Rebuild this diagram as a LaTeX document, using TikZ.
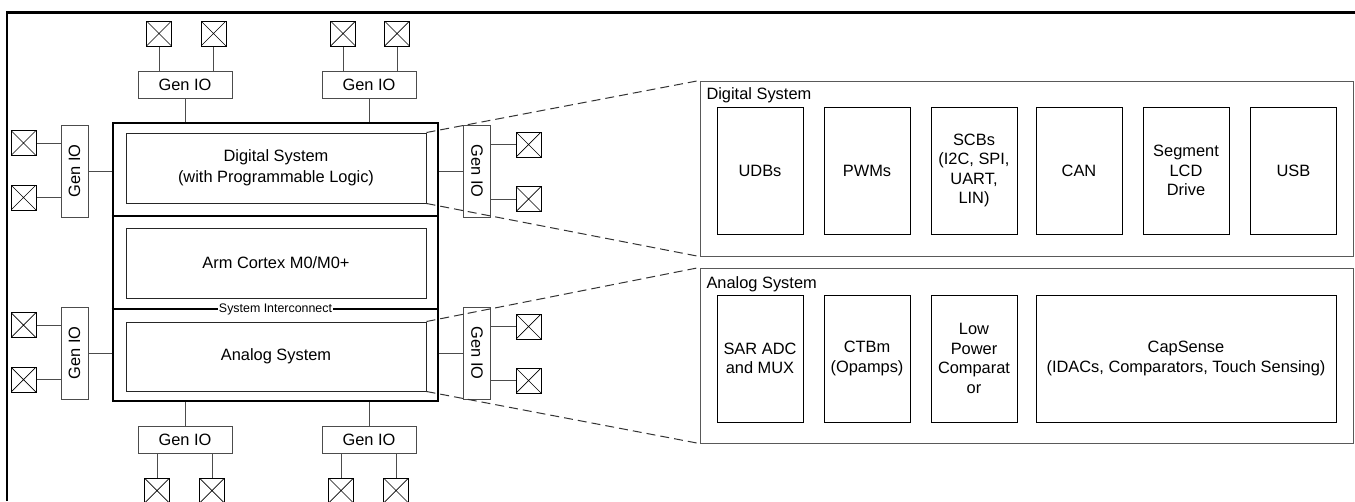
\documentclass[tikz,border=0pt]{standalone}
\usepackage{fontspec}
\setmainfont{Liberation Sans}
\usepackage{graphicx}

\begin{document}
\begin{tikzpicture}[x=1pt, y=-1pt, line width=1pt,
  font=\fontsize{16.4}{19.5}\selectfont,
  iopad/.style={draw, minimum size=25, inner sep=0,
    path picture={\draw[line width=0.7pt]
      (path picture bounding box.north west) -- (path picture bounding box.south east)
      (path picture bounding box.south west) -- (path picture bounding box.north east);}},
  genio/.style={draw=black!70, minimum width=94, minimum height=27, inner sep=0},
  geniov/.style={draw=black!70, minimum width=27, minimum height=92, inner sep=0},
  wire/.style={draw=black!70},
  subsys/.style={draw=black!85, minimum width=300, minimum height=70, inner sep=0,
    align=center, font=\fontsize{16.4}{20.7}\selectfont},
  panel/.style={draw=black!65, minimum width=653, minimum height=175, inner sep=0},
  block/.style={draw, minimum width=86, minimum height=127, inner sep=0, align=center},
  zoomline/.style={draw=black!80, dash pattern=on 9pt off 5pt}]
  \clip (0,0) rectangle (1355,501);
  \draw[line width=2.2] (7,501) -- (7,12.5) -- (1355,12.5);

  \node[draw, line width=2.6, minimum width=325, minimum height=278, inner sep=0] (core) at (275.5,262) {};
  \draw[line width=2.6] (core.west |- 0,216) -- (core.east |- 0,216);
  \draw[line width=2.6] (core.west |- 0,309) -- (core.east |- 0,309);
  \node[fill=white, inner sep=1, font=\fontsize{12.4}{14}\selectfont] (sysic) at (275.5,309) {System Interconnect};
  \node[subsys] (dsys) at (276,168) {Digital System\\(with Programmable Logic)};
  \node[subsys] (cpu) at (276,263) {Arm Cortex M0/M0+};
  \node[subsys, minimum height=69] (asys) at (276,356.5) {Analog System};

  \node[genio] (giT1) at (185,84.5) {Gen IO};
  \node[genio] (giT2) at (369,84.5) {Gen IO};
  \node[genio] (giB1) at (185,439.5) {Gen IO};
  \node[genio] (giB2) at (369,439.5) {Gen IO};
  \node[geniov] (giL1) at (74.5,171) {\rotatebox{90}{Gen IO}};
  \node[geniov] (giL2) at (74.5,353) {\rotatebox{90}{Gen IO}};
  \node[geniov] (giR1) at (477,171) {\rotatebox{-90}{Gen IO}};
  \node[geniov] (giR2) at (477,353) {\rotatebox{-90}{Gen IO}};

  \foreach \n/\x/\y in {T1/159/33.5, T2/213.5/33.5, T3/343/33.5, T4/397/33.5,
      B1/157/490.5, B2/212/490.5, B3/341/490.5, B4/396/490.5,
      L1/23.5/143, L2/23.5/197.5, L3/23.5/325, L4/23.5/379.5,
      R1/528.5/144.5, R2/528.5/199, R3/528.5/326.5, R4/528.5/380.5}
    \node[iopad] (p\n) at (\x,\y) {};

  \foreach \p/\g in {T1/giT1, T2/giT1, T3/giT2, T4/giT2}
    \draw[wire] (p\p) -- (p\p |- \g.north);
  \foreach \p/\g in {B1/giB1, B2/giB1, B3/giB2, B4/giB2}
    \draw[wire] (p\p) -- (p\p |- \g.south);
  \foreach \p/\g in {L1/giL1, L2/giL1, L3/giL2, L4/giL2}
    \draw[wire] (p\p) -- (p\p -| \g.west);
  \foreach \p/\g in {R1/giR1, R2/giR1, R3/giR2, R4/giR2}
    \draw[wire] (p\p) -- (p\p -| \g.east);
  \draw[wire] (giT1) -- (giT1 |- core.north);
  \draw[wire] (giT2) -- (giT2 |- core.north);
  \draw[wire] (giB1) -- (giB1 |- core.south);
  \draw[wire] (giB2) -- (giB2 |- core.south);
  \draw[wire] (giL1) -- (giL1 -| core.west);
  \draw[wire] (giL2) -- (giL2 -| core.west);
  \draw[wire] (giR1) -- (giR1 -| core.east);
  \draw[wire] (giR2) -- (giR2 -| core.east);

  \node[panel] (dpanel) at (1026.5,168.5) {};
  \node[anchor=north west, inner sep=0] (dtitle) at (706,87.5) {Digital System};
  \node[block] (udb) at (760,170.5) {UDBs};
  \node[block] (pwm) at (867,170.5) {PWMs};
  \node[block] (scb) at (974,170.5) {SCBs\\(I2C, SPI,\\UART,\\LIN)};
  \node[block] (can) at (1079,170.5) {CAN};
  \node[block] (lcd) at (1186,170.5) {Segment\\LCD\\Drive};
  \node[block] (usb) at (1293.5,170.5) {USB};

  \node[panel] (apanel) at (1026.5,355.5) {};
  \node[anchor=north west, inner sep=0] (atitle) at (706,276) {Analog System};
  \node[block] (sar) at (760,358.5) {SAR ADC\\and MUX};
  \node[block] (ctb) at (867,358.5) {CTBm\\(Opamps)};
  \node[block] (lpc) at (974,358.5) {Low\\Power\\Comparat\\or};
  \node[block, minimum width=300] (csd) at (1186,358.5) {CapSense\\(IDACs, Comparators, Touch Sensing)};

  \draw[zoomline] (dsys.north east) -- (dpanel.north west);
  \draw[zoomline] (dsys.south east) -- (dpanel.south west);
  \draw[zoomline] (asys.north east) -- (apanel.north west);
  \draw[zoomline] (asys.south east) -- (apanel.south west);
\end{tikzpicture}
\end{document}
